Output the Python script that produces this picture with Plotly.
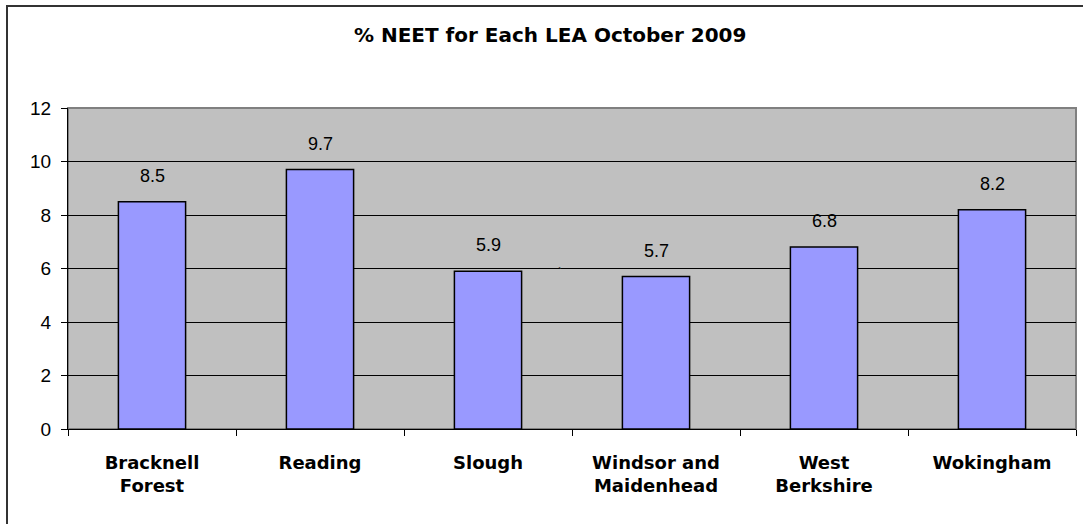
import plotly.graph_objects as go

# data
leas = ['Bracknell Forest', 'Reading', 'Slough', 'Windsor and Maidenhead',
        'West Berkshire', 'Wokingham']
lea_labels = ['Bracknell<br>Forest', 'Reading', 'Slough', 'Windsor and<br>Maidenhead',
              'West<br>Berkshire', 'Wokingham']
neet_pct = [8.5, 9.7, 5.9, 5.7, 6.8, 8.2]
y_ticks = [0, 2, 4, 6, 8, 10, 12]

font = 'Liberation Sans, Arial, sans-serif'
bold_font = 'DejaVu Sans, Liberation Sans, sans-serif'  # wider bold, like the old Excel look

fig = go.Figure(go.Bar(
    x=leas,
    y=neet_pct,
    marker=dict(color='#9999FF', line=dict(color='black', width=1.5)),
    hoverinfo='x+y',
))

# value labels sit a bit higher above the bars than plotly's own text
for name, val in zip(leas, neet_pct):
    fig.add_annotation(x=name, y=val, text=str(val), showarrow=False,
                       yshift=26, font=dict(size=18, color='black', family=font))

# the stray tick mark that appears in the original picture
fig.add_annotation(x=2.43, y=5.85, text='`', showarrow=False,
                   font=dict(size=12, color='#333333', family=font))

# plot-area frame (grey) and outer chart border (dark)
fig.add_shape(type='rect', xref='paper', yref='paper', x0=0, x1=1, y0=0, y1=1,
              line=dict(color='#808080', width=2), layer='below')
fig.add_shape(type='rect', xref='paper', yref='paper',
              x0=-61 / 1008, x1=1030 / 1008, y0=-110 / 321, y1=1 + 102 / 321,
              line=dict(color='#333333', width=2))

fig.update_layout(
    title=dict(text='<b>% NEET for Each LEA October 2009</b>', x=0.508, xanchor='center',
               y=1 - 35 / 524, yanchor='middle',
               font=dict(size=20, color='black', family=bold_font)),
    width=1083, height=524,
    margin=dict(l=68, r=7, t=108, b=95, autoexpand=False),
    paper_bgcolor='white',
    plot_bgcolor='#C0C0C0',
    bargap=0.6,
    showlegend=False,
    font=dict(family=font, color='black'),
)
fig.update_xaxes(
    tickvals=leas, ticktext=lea_labels,
    tickfont=dict(size=18, weight='bold', color='black', family=bold_font),
    showline=True, linecolor='black', linewidth=1,
    ticks='outside', tickson='boundaries', ticklen=6, tickcolor='black',
    ticklabelstandoff=17,
    showgrid=False, automargin=False,
)
fig.update_yaxes(
    range=[0, 12], tickvals=y_ticks,
    tickfont=dict(size=19, color='black'),
    showline=True, linecolor='black', linewidth=1,
    ticks='outside', ticklen=6, tickcolor='black',
    ticklabelstandoff=6,
    showgrid=True, gridcolor='black', gridwidth=1,
    zeroline=False, automargin=False,
)

# drop the page's default 8px body margin so the chart sits at the window corner
fig.write_html('out.html', config={'displayModeBar': False},
               post_script="document.body.style.margin = '0';")
